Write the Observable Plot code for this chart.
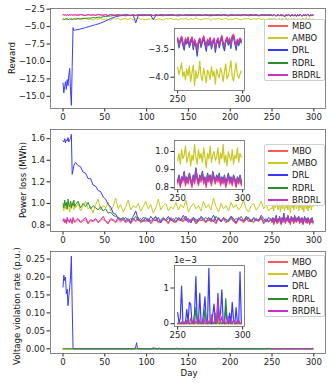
<!DOCTYPE html>
<html><head><meta charset="utf-8">
<script src="https://cdn.jsdelivr.net/npm/d3@7"></script>
<script src="https://cdn.jsdelivr.net/npm/@observablehq/plot@0.6"></script>
<style>
body{margin:0;background:#fff;}
#root{position:relative;width:333px;height:385px;font-family:"DejaVu Sans",sans-serif;overflow:hidden;background:#fff;}
.ylab{position:absolute;transform:translate(-50%,-50%) rotate(-90deg);white-space:nowrap;font-size:8.6px;color:#111;}
.xlab{position:absolute;transform:translate(-50%,-50%);white-space:nowrap;font-size:8.6px;color:#111;}
.legend{position:absolute;width:61px;height:62px;border:1px solid #d0d0d0;border-radius:2px;background:rgba(255,255,255,0.8);box-sizing:border-box;}
.legend .row{position:absolute;left:0;height:12px;width:100%;}
.legend .sw{position:absolute;left:3px;top:5px;width:20px;height:2px;}
.legend .tx{position:absolute;left:27px;top:0;font-size:8.4px;line-height:12px;color:#111;}
.offset{position:absolute;font-size:8.4px;color:#111;white-space:nowrap;}
</style></head><body><div id="root"></div>
<script>
// ---------- data ----------
const seriesNames = ["MBO", "AMBO", "DRL", "RDRL", "BRDRL"];
const seriesColors = ["#ff5a5a", "#c8c820", "#3a3aff", "#2a8f2a", "#cc30cc"];
const daysEarly = d3.range(0, 15);
const daysMid = d3.range(15, 250, 3);
const daysLate = d3.range(250, 300);
const xTicks = [0, 50, 100, 150, 200, 250, 300];
const insetXTicks = [250, 300];

// Panel 1: Reward
const mbo1Early = [-3.31,-3.27,-3.35,-3.30,-3.38,-3.28,-3.33,-3.36,-3.29,-3.34,-3.26,-3.37,-3.31,-3.29,-3.35];
const ambo1Early = [-3.92,-3.85,-4.01,-3.88,-3.96,-3.79,-4.04,-3.91,-3.86,-3.98,-3.83,-4.06,-3.90,-3.94,-3.87];
const drl1Early = [-13.1,-14.5,-13.6,-12.9,-14.0,-12.6,-13.5,-11.9,-11.0,-14.1,-16.3,-10.7,-5.15,-5.55,-5.5];
const rdrl1Early = [-3.95,-3.90,-3.98,-3.92,-3.88,-3.96,-3.91,-3.99,-3.87,-3.94,-3.90,-3.97,-3.89,-3.93,-3.86];
const brdrl1Early = [-3.32,-3.29,-3.37,-3.31,-3.40,-3.30,-3.34,-3.38,-3.30,-3.36,-3.28,-3.39,-3.33,-3.30,-3.37];

const mbo1Mid = [-3.29,-3.36,-3.26,-3.33,-3.39,-3.28,-3.34,-3.30,-3.37,-3.25,
-3.32,-3.35,-3.29,-3.40,-3.27,-3.33,-3.35,-3.28,-3.38,-3.31,
-3.26,-3.34,-3.36,-3.30,-3.41,-3.29,-3.33,-3.27,-3.35,-3.32,
-3.28,-3.38,-3.31,-3.35,-3.26,-3.33,-3.37,-3.29,-3.34,-3.30,
-3.36,-3.27,-3.32,-3.39,-3.29,-3.35,-3.28,-3.33,-3.36,-3.25,
-3.31,-3.37,-3.30,-3.34,-3.27,-3.38,-3.32,-3.29,-3.35,-3.28,
-3.33,-3.36,-3.26,-3.32,-3.39,-3.30,-3.34,-3.28,-3.36,-3.31,
-3.27,-3.35,-3.29,-3.37,-3.32,-3.26,-3.34,-3.30,-3.36];
const ambo1Mid = [-3.95,-3.84,-4.02,-3.89,-3.77,-3.99,-3.91,-4.07,-3.86,-3.93,
-3.81,-4.00,-3.88,-3.96,-4.10,-3.85,-3.92,-3.78,-4.03,-3.90,
-3.87,-3.98,-3.83,-4.05,-3.91,-3.76,-3.97,-3.89,-4.04,-3.86,
-3.93,-3.80,-4.01,-3.88,-3.95,-4.08,-3.84,-3.92,-3.79,-3.99,
-3.90,-4.06,-3.85,-3.94,-3.82,-4.00,-3.87,-3.97,-3.74,-3.93,
-4.03,-3.88,-3.91,-3.81,-4.09,-3.86,-3.95,-3.79,-3.98,-3.90,
-3.84,-4.02,-3.89,-3.96,-3.77,-3.93,-4.05,-3.87,-3.92,-3.83,
-4.00,-3.88,-3.95,-3.80,-3.97,-3.91,-4.04,-3.86,-3.93];
const drl1Mid = [-5.48,-5.42,-5.33,-5.25,-5.14,-5.02,-4.93,-4.82,-4.71,-4.62,
-4.49,-4.35,-4.18,-4.02,-3.85,-3.70,-3.58,-3.50,
-3.44,-3.40,-3.45,-3.38,-3.42,-3.36,-4.45,-3.40,-3.37,-3.44,
-3.35,-3.41,-3.38,-4.02,-3.39,-3.43,-3.36,-3.45,-3.33,-3.40,
-3.38,-3.35,-3.42,-3.46,-3.37,-3.41,-3.34,-3.43,-3.39,-3.36,
-3.44,-3.35,-3.40,-3.38,-3.33,-3.42,-3.45,-3.36,-3.41,-3.37,
-3.43,-3.34,-3.39,-3.46,-3.36,-3.41,-3.35,-3.40,-3.43,-3.32,
-3.38,-3.44,-3.37,-3.41,-3.34,-3.45,-3.39,-3.36,-3.42,-3.35,
-3.40];
const rdrl1Mid = [-3.91,-3.85,-3.88,-3.80,-3.84,-3.76,-3.79,-3.70,-3.73,-3.64,
-3.67,-3.58,-3.55,-3.50,-3.47,-3.42,-3.40,-3.36,
-3.33,-3.39,-3.30,-3.36,-3.42,-3.31,-3.37,-3.33,-3.40,-3.28,
-3.35,-3.38,-3.32,-3.43,-3.30,-3.36,-3.38,-3.31,-3.41,-3.34,
-3.29,-3.37,-3.40,-3.33,-3.44,-3.32,-3.36,-3.30,-3.39,-3.35,
-3.31,-3.41,-3.34,-3.38,-3.29,-3.36,-3.40,-3.32,-3.37,-3.33,
-3.39,-3.30,-3.35,-3.42,-3.32,-3.38,-3.31,-3.36,-3.39,-3.28,
-3.34,-3.40,-3.33,-3.37,-3.30,-3.41,-3.35,-3.32,-3.38,-3.31,
-3.36];
const brdrl1Mid = [-3.30,-3.38,-3.27,-3.34,-3.41,-3.29,-3.35,-3.31,-3.39,-3.26,
-3.33,-3.37,-3.30,-3.42,-3.28,-3.34,-3.36,-3.29,-3.40,-3.32,
-3.27,-3.35,-3.38,-3.31,-3.43,-3.30,-3.34,-3.28,-3.37,-3.33,
-3.29,-3.40,-3.32,-3.36,-3.27,-3.34,-3.39,-3.30,-3.35,-3.31,
-3.38,-3.28,-3.33,-3.41,-3.30,-3.36,-3.29,-3.34,-3.37,-3.26,
-3.32,-3.39,-3.31,-3.35,-3.28,-3.40,-3.33,-3.30,-3.36,-3.29,
-3.34,-3.38,-3.27,-3.33,-3.41,-3.31,-3.35,-3.29,-3.37,-3.32,
-3.28,-3.36,-3.30,-3.39,-3.33,-3.27,-3.35,-3.31,-3.38];

const mbo1Late = [-3.28,-3.41,-3.31,-3.26,-3.36,-3.44,-3.29,-3.35,-3.27,-3.40,
-3.33,-3.27,-3.42,-3.31,-3.38,-3.50,-3.34,-3.29,-3.38,-3.33,
-3.25,-3.36,-3.44,-3.31,-3.36,-3.28,-3.41,-3.34,-3.29,-3.46,
-3.34,-3.29,-3.39,-3.32,-3.24,-3.38,-3.43,-3.33,-3.27,-3.36,
-3.29,-3.41,-3.25,-3.22,-3.34,-3.42,-3.31,-3.36,-3.29,-3.33];
const ambo1Late = [-3.82,-3.95,-3.86,-3.74,-3.99,-3.90,-4.05,-3.85,-3.97,-3.80,
-4.08,-3.92,-3.78,-4.15,-3.88,-4.02,-3.94,-3.71,-3.99,-4.06,
-3.84,-3.96,-4.10,-3.87,-3.93,-4.04,-3.81,-3.98,-3.89,-4.12,
-3.86,-3.95,-4.01,-3.83,-3.92,-4.08,-3.90,-3.76,-4.03,-3.97,
-3.85,-3.70,-3.99,-4.07,-3.88,-3.74,-3.96,-4.02,-3.94,-3.89];
const drl1Late = [-3.33,-3.47,-3.36,-3.30,-3.43,-3.51,-3.34,-3.40,-3.32,-3.46,
-3.38,-3.31,-3.50,-3.36,-3.44,-3.62,-3.40,-3.33,-3.46,-3.37,
-3.30,-3.42,-3.53,-3.35,-3.43,-3.32,-3.49,-3.39,-3.34,-3.55,
-3.40,-3.33,-3.47,-3.36,-3.29,-3.44,-3.52,-3.37,-3.32,-3.42,
-3.34,-3.48,-3.30,-3.27,-3.39,-3.51,-3.35,-3.43,-3.33,-3.38];
const rdrl1Late = [-3.31,-3.44,-3.34,-3.28,-3.40,-3.47,-3.32,-3.37,-3.30,-3.43,
-3.36,-3.29,-3.46,-3.34,-3.41,-3.55,-3.37,-3.31,-3.42,-3.35,
-3.28,-3.39,-3.48,-3.33,-3.40,-3.30,-3.45,-3.36,-3.32,-3.50,
-3.37,-3.31,-3.43,-3.34,-3.27,-3.41,-3.47,-3.35,-3.30,-3.39,
-3.32,-3.44,-3.28,-3.25,-3.36,-3.46,-3.33,-3.40,-3.31,-3.35];
const brdrl1Late = [-3.30,-3.42,-3.33,-3.27,-3.38,-3.45,-3.31,-3.36,-3.29,-3.41,
-3.35,-3.28,-3.44,-3.33,-3.39,-3.52,-3.36,-3.30,-3.40,-3.34,
-3.27,-3.37,-3.46,-3.32,-3.38,-3.29,-3.43,-3.35,-3.31,-3.48,
-3.36,-3.30,-3.41,-3.33,-3.26,-3.39,-3.45,-3.34,-3.29,-3.37,
-3.31,-3.42,-3.27,-3.24,-3.35,-3.44,-3.32,-3.38,-3.30,-3.34];
const rewardTicks = [-15, -12.5, -10, -7.5, -5, -2.5];
const rewardInsetTicks = [-4.0, -3.5];

// Panel 2: Power loss (MWh)
const mbo2Early = [0.83,0.85,0.82,0.84,0.81,0.85,0.83,0.84,0.82,0.85,0.83,0.81,0.86,0.84,0.82];
const ambo2Early = [0.97,0.93,1.00,0.95,0.98,0.94,1.01,0.96,0.92,0.99,0.95,1.02,0.97,0.94,0.99];
const drl2Early = [1.58,1.57,1.60,1.56,1.59,1.58,1.61,1.57,1.59,1.60,1.64,1.27,1.31,1.35,1.37];
const rdrl2Early = [1.00,0.96,1.03,0.98,1.01,0.95,1.04,0.99,0.97,1.02,0.96,1.00,0.98,1.03,0.97];
const brdrl2Early = [0.84,0.86,0.83,0.85,0.82,0.87,0.84,0.85,0.83,0.86,0.84,0.82,0.87,0.85,0.83];

const mbo2Mid = [0.83,0.85,0.82,0.84,0.85,0.81,0.84,0.83,0.85,0.82,
0.84,0.86,0.83,0.81,0.85,0.84,0.82,0.85,0.83,0.85,
0.82,0.84,0.81,0.85,0.83,0.86,0.82,0.84,0.83,0.85,
0.81,0.84,0.85,0.82,0.83,0.85,0.84,0.81,0.86,0.83,
0.82,0.85,0.84,0.83,0.86,0.82,0.84,0.85,0.81,0.83,
0.86,0.84,0.82,0.85,0.83,0.84,0.81,0.86,0.83,0.85,
0.82,0.84,0.86,0.83,0.81,0.85,0.84,0.82,0.86,0.83,
0.84,0.82,0.85,0.83,0.86,0.81,0.84,0.83,0.85];
const ambo2Mid = [0.96,1.00,0.93,0.98,1.02,0.95,0.97,0.91,0.99,1.04,
0.94,0.98,0.96,1.01,0.93,0.97,1.05,0.95,0.99,0.92,
0.97,1.03,0.94,0.98,0.96,1.00,0.93,0.97,1.02,0.95,
0.99,0.91,0.96,1.04,0.94,0.98,1.00,0.93,0.97,0.95,
1.01,0.94,0.99,0.96,1.03,0.92,0.97,1.00,0.95,0.98,
0.93,1.02,0.96,0.99,0.94,1.05,0.97,0.92,1.00,0.95,
0.98,0.93,1.01,0.96,0.99,0.94,0.97,1.03,0.95,0.92,
0.98,1.00,0.94,0.97,1.02,0.95,0.99,0.93,0.96];
const drl2Mid = [1.38,1.35,1.34,1.29,1.28,1.23,1.23,1.17,1.16,1.12,
1.11,1.06,1.04,0.99,0.97,0.91,0.90,0.86,
0.85,0.87,0.84,0.86,0.83,0.88,0.93,0.85,0.84,0.87,
0.86,0.83,0.88,0.85,0.84,0.87,0.82,0.86,0.85,0.88,
0.84,0.86,0.83,0.87,0.85,0.89,0.84,0.86,0.82,0.87,
0.85,0.84,0.88,0.86,0.83,0.87,0.85,0.89,0.84,0.86,
0.83,0.87,0.85,0.84,0.88,0.86,0.82,0.87,0.85,0.84,
0.88,0.86,0.83,0.87,0.85,0.84,0.89,0.86,0.83,0.87,
0.85];
const rdrl2Mid = [0.99,1.02,0.96,1.00,0.97,1.01,0.95,0.98,0.96,0.94,
0.97,0.93,0.95,0.91,0.92,0.89,0.88,0.87,
0.86,0.85,0.87,0.84,0.86,0.85,0.88,0.84,0.86,0.83,
0.87,0.85,0.84,0.86,0.88,0.83,0.85,0.87,0.84,0.86,
0.85,0.83,0.87,0.85,0.84,0.86,0.88,0.84,0.85,0.87,
0.83,0.86,0.84,0.85,0.87,0.84,0.86,0.83,0.88,0.85,
0.84,0.86,0.85,0.83,0.87,0.84,0.86,0.85,0.88,0.84,
0.85,0.87,0.83,0.86,0.84,0.85,0.87,0.84,0.86,0.83,
0.85];
const brdrl2Mid = [0.84,0.86,0.83,0.85,0.87,0.82,0.85,0.84,0.86,0.83,
0.85,0.88,0.84,0.82,0.86,0.85,0.83,0.87,0.84,0.86,
0.83,0.85,0.82,0.86,0.84,0.87,0.83,0.85,0.84,0.86,
0.82,0.85,0.87,0.83,0.84,0.86,0.85,0.82,0.87,0.84,
0.83,0.86,0.85,0.84,0.88,0.83,0.85,0.86,0.82,0.84,
0.87,0.85,0.83,0.86,0.84,0.85,0.82,0.87,0.84,0.86,
0.83,0.85,0.88,0.84,0.82,0.86,0.85,0.83,0.87,0.84,
0.85,0.83,0.86,0.84,0.87,0.82,0.85,0.84,0.86];

const mbo2Late = [0.82,0.85,0.80,0.84,0.83,0.87,0.81,0.84,0.82,0.86,
0.83,0.80,0.85,0.82,0.89,0.84,0.81,0.85,0.83,0.87,
0.82,0.84,0.80,0.86,0.83,0.85,0.81,0.87,0.84,0.82,
0.85,0.83,0.86,0.81,0.84,0.82,0.85,0.80,0.83,0.86,
0.82,0.84,0.81,0.85,0.83,0.80,0.84,0.82,0.85,0.81];
const ambo2Late = [0.95,0.99,0.93,1.01,0.96,0.98,1.03,0.94,0.97,1.00,
0.92,0.98,0.95,1.04,0.97,0.93,1.01,0.96,0.99,0.94,
1.02,0.97,0.91,0.99,0.96,1.03,0.94,0.98,1.00,0.95,
0.97,1.02,0.93,0.99,0.96,1.04,0.94,0.98,0.92,1.00,
0.97,0.95,1.01,0.93,0.98,0.96,1.02,0.94,0.99,0.97];
const drl2Late = [0.84,0.87,0.82,0.86,0.85,0.89,0.83,0.86,0.84,0.88,
0.85,0.82,0.87,0.84,0.91,0.86,0.83,0.87,0.85,0.89,
0.84,0.86,0.82,0.88,0.85,0.87,0.83,0.89,0.86,0.84,
0.87,0.85,0.88,0.83,0.86,0.84,0.87,0.82,0.85,0.88,
0.84,0.86,0.83,0.87,0.85,0.82,0.86,0.84,0.87,0.83];
const rdrl2Late = [0.835,0.865,0.815,0.855,0.845,0.885,0.825,0.855,0.835,0.875,
0.845,0.815,0.865,0.835,0.905,0.855,0.825,0.865,0.845,0.885,
0.835,0.855,0.815,0.875,0.845,0.865,0.825,0.885,0.855,0.835,
0.865,0.845,0.875,0.825,0.855,0.835,0.865,0.815,0.845,0.875,
0.835,0.855,0.825,0.865,0.845,0.815,0.855,0.835,0.865,0.825];
const brdrl2Late = [0.83,0.86,0.81,0.85,0.84,0.88,0.82,0.85,0.83,0.87,
0.84,0.81,0.86,0.83,0.90,0.85,0.82,0.86,0.84,0.88,
0.83,0.85,0.81,0.87,0.84,0.86,0.82,0.88,0.85,0.83,
0.86,0.84,0.87,0.82,0.85,0.83,0.86,0.81,0.84,0.87,
0.83,0.85,0.82,0.86,0.84,0.81,0.85,0.83,0.86,0.82];
const lossTicks = [0.8, 1.0, 1.2, 1.4, 1.6];
const lossInsetTicks = [0.8, 0.9, 1.0];

// Panel 3: Voltage violation rate (p.u.)
const drl3Days = [0,1,2,3,4,5,6,7,8,9,10,11,12,13,86,87,88,89,90,107,108,109,110,111,114,115,116,135,136,137,185,186,187,245,246,247,249];
const drl3Vals = [0.172,0.205,0.19,0.2,0.153,0.166,0.12,0.148,0.17,0.2,0.258,0.12,0,0,0,0.006,0.017,0.002,0,0,0.004,0,0.003,0,0,0.003,0,0,0.002,0,0,0.002,0,0,0.002,0,0];
const flat3Days = [0, 249];
const mbo3Flat = [0, 0];
const ambo3Flat = [0, 0];
const rdrl3Flat = [0, 0];
const mbo3Late = [0,0,0,0,0,0,0.05e-3,0,0,0,
0,0,0,0.10e-3,0,0,0,0,0,0.05e-3,
0,0,0,0,0,0.08e-3,0,0,0,0.30e-3,
0,0.40e-3,0,0,0,0.05e-3,0,0,0,0,
0.10e-3,0,0,0,0,0,0.05e-3,0,0,0];
const ambo3Late = [0,0,0,0.01e-3,0,0,0,0,0,0,
0,0.01e-3,0,0,0,0,0,0,0,0,
0,0,0,0,0.01e-3,0,0,0,0,0,
0,0,0,0,0,0,0.01e-3,0,0,0,
0,0,0,0,0,0,0,0,0.01e-3,0];
const drl3Late = [0.31e-3,0.03e-3,0.15e-3,1.05e-3,0.05e-3,0,0.02e-3,0.40e-3,0.05e-3,0.60e-3,
0.55e-3,0.05e-3,0,0.30e-3,1.32e-3,0.02e-3,0.05e-3,0.85e-3,0.03e-3,0,
0.35e-3,0.75e-3,0.02e-3,0.05e-3,1.55e-3,0.03e-3,0,0.25e-3,0.55e-3,0.02e-3,
0.05e-3,0.85e-3,0.10e-3,0.30e-3,0.95e-3,0.05e-3,0,0.45e-3,0.10e-3,0,
0.30e-3,0,0.60e-3,0.10e-3,0,0.45e-3,0.02e-3,0.05e-3,1.45e-3,0.03e-3];
const rdrl3Late = [0,0.02e-3,0,0.05e-3,0,0,0.03e-3,0,0.10e-3,0,
0.02e-3,0,0.05e-3,0,0.45e-3,0.10e-3,0,0.03e-3,0,0.02e-3,
0,0.40e-3,0.05e-3,0,0.02e-3,0,0.15e-3,0,0.03e-3,0,
0.20e-3,0.02e-3,0,0.05e-3,0,0.02e-3,0,0.70e-3,0.15e-3,0,
0.03e-3,0,0.02e-3,0.10e-3,0,0.02e-3,0,0.03e-3,0,0];
const brdrl3Late = [0.02e-3,0,0.03e-3,0,0.02e-3,0.05e-3,0,0.10e-3,0.02e-3,0,
0.15e-3,0.03e-3,0.10e-3,0,0.05e-3,0.02e-3,0.20e-3,0.03e-3,0.05e-3,0,
0.15e-3,0.02e-3,0,0.10e-3,0.03e-3,0,0.25e-3,0.05e-3,0.02e-3,0.10e-3,
0,0.65e-3,0.25e-3,0.03e-3,0.20e-3,0.02e-3,0.10e-3,0,0.05e-3,0.20e-3,
0.02e-3,0.05e-3,0,0.10e-3,0.02e-3,0.05e-3,0,0.10e-3,0.02e-3,0];
const voltTicks = [0, 0.05, 0.10, 0.15, 0.20, 0.25];
const voltInsetTicks = [0, 1e-3];

// ---------- helpers ----------
function pts(name, days, vals) {
  if (days.length !== vals.length) throw new Error(name + ": " + days.length + " days vs " + vals.length + " values");
  return days.map((d, i) => ({day: d, v: vals[i]}));
}
const daysAll = [...daysEarly, ...daysMid, ...daysLate];
const root = document.getElementById("root");
const baseStyle = {fontFamily: "DejaVu Sans, sans-serif", fontSize: "8.6px", color: "#222", background: "transparent", overflow: "visible"};

function place(el, left, top) {
  el.style.position = "absolute";
  el.style.left = left + "px";
  el.style.top = top + "px";
  root.appendChild(el);
}

function mainPanel({top, height, mt, mb, ydomain, yticks, yfmt, series}) {
  const p = Plot.plot({
    width: 333, height, marginLeft: 50, marginRight: 8, marginTop: mt, marginBottom: mb,
    x: {domain: [-14.95, 313.95], ticks: xTicks, tickSize: 3.5, tickPadding: 2, label: null, tickFormat: d3.format("d")},
    y: {domain: ydomain, ticks: yticks, tickSize: 3.5, tickPadding: 2, label: null, tickFormat: yfmt},
    marks: [
      ...series.map((s, i) => Plot.line(s, {x: "day", y: "v", stroke: seriesColors[i], strokeWidth: 1})),
      Plot.frame({stroke: "#666", strokeWidth: 0.8})
    ],
    style: baseStyle
  });
  place(p, 0, top);
}

function insetPanel({left, top, w, h, ydomain, yticks, yfmt, series}) {
  const ml = 28, mr = 3, mtp = 2, mbt = 16;
  const p = Plot.plot({
    width: ml + w + mr, height: mtp + h + mbt, marginLeft: ml, marginRight: mr, marginTop: mtp, marginBottom: mbt,
    x: {domain: [247.55, 301.45], ticks: insetXTicks, tickSize: 3.5, tickPadding: 2, label: null, tickFormat: d3.format("d")},
    y: {domain: ydomain, ticks: yticks, tickSize: 3.5, tickPadding: 2, label: null, tickFormat: yfmt},
    marks: [
      Plot.frame({fill: "white"}),
      ...series.map((s, i) => Plot.line(s, {x: "day", y: "v", stroke: seriesColors[i], strokeWidth: 1.2, clip: true})),
      Plot.frame({stroke: "#666", strokeWidth: 0.8})
    ],
    style: baseStyle
  });
  place(p, left - ml, top - mtp);
}

function legend(left, top) {
  const box = document.createElement("div");
  box.className = "legend";
  box.style.left = left + "px";
  box.style.top = top + "px";
  seriesNames.forEach((n, i) => {
    const row = document.createElement("div");
    row.className = "row";
    row.style.top = Math.round(i * 12.2) + "px";
    const sw = document.createElement("div");
    sw.className = "sw";
    sw.style.backgroundColor = seriesColors[i];
    const tx = document.createElement("div");
    tx.className = "tx";
    tx.textContent = n;
    row.appendChild(sw); row.appendChild(tx);
    box.appendChild(row);
  });
  root.appendChild(box);
}

function label(cls, text, x, y) {
  const d = document.createElement("div");
  d.className = cls;
  d.textContent = text;
  d.style.left = x + "px";
  d.style.top = y + "px";
  root.appendChild(d);
}

// ---------- panel 1 ----------
const p1 = [
  pts("mbo1", daysAll, [...mbo1Early, ...mbo1Mid, ...mbo1Late]),
  pts("ambo1", daysAll, [...ambo1Early, ...ambo1Mid, ...ambo1Late]),
  pts("drl1", daysAll, [...drl1Early, ...drl1Mid, ...drl1Late]),
  pts("rdrl1", daysAll, [...rdrl1Early, ...rdrl1Mid, ...rdrl1Late]),
  pts("brdrl1", daysAll, [...brdrl1Early, ...brdrl1Mid, ...brdrl1Late])
];
mainPanel({top: 0, height: 126, mt: 8, mb: 18, ydomain: [-16.75, -2.4], yticks: rewardTicks, yfmt: d3.format(".1f"), series: p1});
insetPanel({left: 174, top: 28, w: 70, h: 62, ydomain: [-4.24, -3.12], yticks: rewardInsetTicks, yfmt: d3.format(".1f"),
  series: [
    pts("mbo1i", daysLate, mbo1Late), pts("ambo1i", daysLate, ambo1Late), pts("drl1i", daysLate, drl1Late),
    pts("rdrl1i", daysLate, rdrl1Late), pts("brdrl1i", daysLate, brdrl1Late)]});
legend(264, 19);
label("ylab", "Reward", 12, 58);

// ---------- panel 2 ----------
const p2 = [
  pts("mbo2", daysAll, [...mbo2Early, ...mbo2Mid, ...mbo2Late]),
  pts("ambo2", daysAll, [...ambo2Early, ...ambo2Mid, ...ambo2Late]),
  pts("drl2", daysAll, [...drl2Early, ...drl2Mid, ...drl2Late]),
  pts("rdrl2", daysAll, [...rdrl2Early, ...rdrl2Mid, ...rdrl2Late]),
  pts("brdrl2", daysAll, [...brdrl2Early, ...brdrl2Mid, ...brdrl2Late])
];
mainPanel({top: 125, height: 125, mt: 4, mb: 19, ydomain: [0.74, 1.685], yticks: lossTicks, yfmt: d3.format(".1f"), series: p2});
insetPanel({left: 174, top: 140, w: 70, h: 49, ydomain: [0.79, 1.061], yticks: lossInsetTicks, yfmt: d3.format(".1f"),
  series: [
    pts("mbo2i", daysLate, mbo2Late), pts("ambo2i", daysLate, ambo2Late), pts("drl2i", daysLate, drl2Late),
    pts("rdrl2i", daysLate, rdrl2Late), pts("brdrl2i", daysLate, brdrl2Late)]});
legend(264, 144);
label("ylab", "Power loss (MWh)", 23, 180);

// ---------- panel 3 ----------
const p3 = [
  pts("mbo3", [...flat3Days, ...daysLate], [...mbo3Flat, ...mbo3Late]),
  pts("ambo3", [...flat3Days, ...daysLate], [...ambo3Flat, ...ambo3Late]),
  pts("drl3", [...drl3Days, ...daysLate], [...drl3Vals, ...drl3Late]),
  pts("rdrl3", [...flat3Days, ...daysLate], [...rdrl3Flat, ...rdrl3Late]),
  pts("brdrl3", daysLate, brdrl3Late)
];
mainPanel({top: 250, height: 135, mt: 1, mb: 32, ydomain: [-0.013, 0.271], yticks: voltTicks, yfmt: d3.format(".2f"), series: p3});
insetPanel({left: 174, top: 265, w: 70, h: 61, ydomain: [-0.078e-3, 1.63e-3], yticks: voltInsetTicks, yfmt: d => String(Math.round(d * 1000)),
  series: [
    pts("mbo3i", daysLate, mbo3Late), pts("ambo3i", daysLate, ambo3Late), pts("drl3i", daysLate, drl3Late),
    pts("rdrl3i", daysLate, rdrl3Late), pts("brdrl3i", daysLate, brdrl3Late)]});
const off = document.createElement("div");
off.className = "offset"; off.textContent = "1e\u22123";
off.style.left = "174px"; off.style.top = "255px";
root.appendChild(off);
legend(264, 255);
label("ylab", "Voltage violation rate (p.u.)", 17, 306);
label("xlab", "Day", 189, 373);
</script></body></html>
